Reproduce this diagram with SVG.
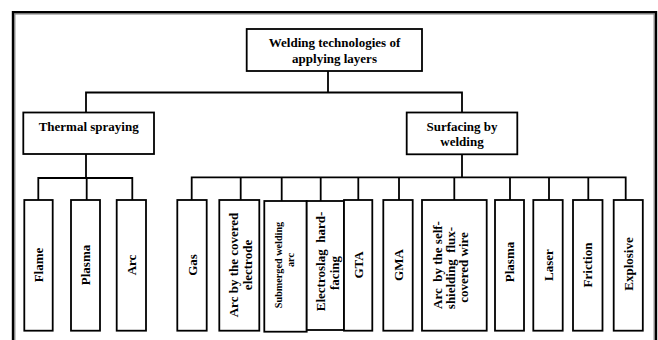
<svg xmlns="http://www.w3.org/2000/svg" width="658" height="340" viewBox="0 0 658 340">
<style>
.box{fill:#fff;stroke:#000;stroke-width:1.8}
.t{font-family:"Liberation Serif","Times New Roman",serif;font-weight:bold;font-size:13px;fill:#000;text-anchor:middle}
.s{font-size:10.2px}
.c{fill:none;stroke:#000;stroke-width:1.8}
</style>
<rect width="658" height="340" fill="#fff"/>
<g id="frame">
<path d="M13,345 V12.2 H656 V345" fill="none" stroke="#000" stroke-width="2.4"/>
<path d="M14.8,345 V14 H654.2 V345" fill="none" stroke="#777" stroke-width="1.2"/>
</g>
<g id="connectors" class="c">
<path class="c" d="M328,71 V92.5 M86,112.5 V92.5 H462 V112.5"/>
<path class="c" d="M86,154 V178 M38.3,200 V178 H132.3 V200 M86.7,178 V200"/>
<path class="c" d="M462,154.3 V177.3 M191.7,200 V177.3 H625.7 V200 M240.7,177.3 V200 M281.7,177.3 V201 M320.7,177.3 V201 M358.3,177.3 V200 M399,177.3 V200 M454.3,177.3 V200 M510,177.3 V200 M549,177.3 V200 M588.3,177.3 V200"/>
</g>
<g id="root">
<rect class="box" x="246.7" y="29" width="175.3" height="42"/>
<text class="t" x="334.5" y="46.7">Welding technologies of</text>
<text class="t" x="334.5" y="62.7">applying layers</text>
</g>
<g id="thermal">
<rect class="box" x="23.3" y="112.5" width="130.7" height="41.5"/>
<text class="t" x="88.7" y="130.7">Thermal spraying</text>
</g>
<g id="surfacing">
<rect class="box" x="406.7" y="112.5" width="110.6" height="41.8"/>
<text class="t" x="462" y="130.7">Surfacing by</text>
<text class="t" x="462" y="146">welding</text>
</g>
<g id="flame">
<rect class="box" x="24.3" y="200" width="28.4" height="130.7"/>
<text class="t" transform="translate(43.2,265) rotate(-90)">Flame</text>
</g>
<g id="plasma1">
<rect class="box" x="71" y="200" width="29" height="130.7"/>
<text class="t" transform="translate(90,265) rotate(-90)">Plasma</text>
</g>
<g id="arc1">
<rect class="box" x="116.7" y="200" width="29.3" height="130.7"/>
<text class="t" transform="translate(135.8,265) rotate(-90)">Arc</text>
</g>
<g id="gas">
<rect class="box" x="177.3" y="200" width="29.4" height="130.7"/>
<text class="t" transform="translate(196.5,265) rotate(-90)">Gas</text>
</g>
<g id="arc-covered">
<rect class="box" x="219.3" y="200" width="40" height="130.7"/>
<text class="t" transform="translate(238.3,265) rotate(-90)">Arc by the covered</text>
<text class="t" transform="translate(251.7,265) rotate(-90)">electrode</text>
</g>
<g id="submerged">
<rect class="box" x="264.3" y="201" width="42.4" height="130.7"/>
<text class="t s" transform="translate(281.7,265) rotate(-90)">Submerged welding</text>
<text class="t s" transform="translate(294,260) rotate(-90)">arc</text>
</g>
<g id="electroslag">
<rect class="box" x="306.7" y="201" width="37.3" height="129"/>
<text class="t" transform="translate(325,261.5) rotate(-90)" xml:space="preserve">Electroslag  hard-</text>
<text class="t" transform="translate(339.3,273) rotate(-90)">facing</text>
</g>
<g id="gta">
<rect class="box" x="344" y="200" width="28.3" height="130.7"/>
<text class="t" transform="translate(363,265) rotate(-90)">GTA</text>
</g>
<g id="gma">
<rect class="box" x="383.3" y="200" width="29.4" height="130.7"/>
<text class="t" transform="translate(402.5,265) rotate(-90)">GMA</text>
</g>
<g id="self-shielding">
<rect class="box" x="422" y="200" width="64.7" height="130.7"/>
<text class="t" transform="translate(441.7,265) rotate(-90)" xml:space="preserve">Arc  by the self-</text>
<text class="t" transform="translate(455,268) rotate(-90)" xml:space="preserve">shielding  flux-</text>
<text class="t" transform="translate(468.3,267.5) rotate(-90)">covered wire</text>
</g>
<g id="plasma2">
<rect class="box" x="495" y="200" width="29" height="130.7"/>
<text class="t" transform="translate(514,262) rotate(-90)">Plasma</text>
</g>
<g id="laser">
<rect class="box" x="533.3" y="200" width="29.4" height="130.7"/>
<text class="t" transform="translate(552.5,265) rotate(-90)">Laser</text>
</g>
<g id="friction">
<rect class="box" x="573" y="200" width="29.5" height="130.7"/>
<text class="t" transform="translate(592.3,265) rotate(-90)">Friction</text>
</g>
<g id="explosive">
<rect class="box" x="613.7" y="200" width="29.1" height="130.7"/>
<text class="t" transform="translate(632.7,264) rotate(-90)">Explosive</text>
</g>
</svg>
